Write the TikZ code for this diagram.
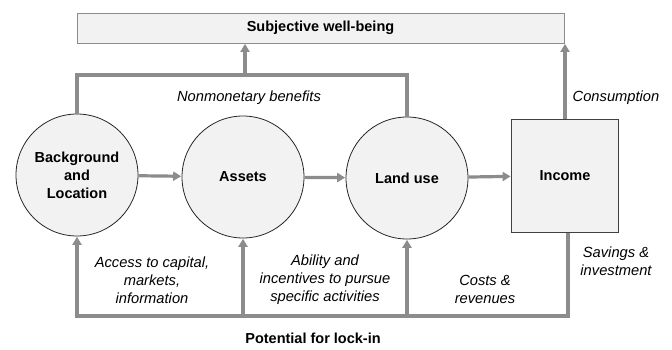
\documentclass[tikz,border=0pt]{standalone}
\usepackage{fontspec}
\setmainfont{Liberation Sans}
\usetikzlibrary{arrows.meta}

\definecolor{lineGray}{RGB}{140,140,140}
\definecolor{boxFill}{RGB}{242,242,242}

\tikzset{
	bold/.style={font=\fontsize{14.5}{18}\selectfont\bfseries, align=center},
	note/.style={font=\fontsize{14.7}{18}\selectfont\itshape, align=center},
	stage/.style={circle, draw=black!85, line width=0.8pt, fill=boxFill, minimum size=122pt, inner sep=0pt, bold},
	flowline/.style={draw=lineGray, line width=3.2pt},
	flow/.style={flowline, -{Triangle[length=8pt,width=9pt]}, shorten >=0.4pt}
}

\begin{document}
\begin{tikzpicture}[x=1pt,y=-1pt]

\useasboundingbox (0,0) rectangle (672,349);

%boxes and circles
\node[draw=lineGray, line width=1pt, fill=boxFill, minimum width=487pt, minimum height=30pt, bold](wellbeing) at (320.5,28){Subjective well-being};
\node[stage](background) at (77,175){Background\\and\\Location};
\node[stage](assets) at (243,177){Assets};
\node[stage](landuse) at (407,178){Land use};
\node[draw=black!75, line width=1pt, fill=boxFill, minimum width=107pt, minimum height=113pt, bold](income) at (565,175.5){Income};

%main chain
\draw[flow](background)--(assets);
\draw[flow](assets)--(landuse);
\draw[flow](landuse)--(income);

%nonmonetary benefits and consumption
\coordinate (nmbar) at (245,75);
\draw[flowline](background.north)|-(nmbar)-|(landuse.north);
\draw[flow](nmbar)--(wellbeing.south -| nmbar);
\draw[flow](income.north)--(income.north |- wellbeing.south);

%lock-in feedback
\coordinate (lockbase) at (0,316);
\coordinate (savings) at (568,0);
\draw[flow](income.south -| savings)|-(background.south |- lockbase)--(background.south);
\draw[flow](assets.south |- lockbase)--(assets.south);
\draw[flow](landuse.south |- lockbase)--(landuse.south);

%add annotations
\node[note](nonmonetary) at (249,98){Nonmonetary benefits};
\node[note](consumption) at (616,98){Consumption};
\node[note](access) at (152,280){Access to capital,\\markets,\\information};
\node[note](ability) at (325,280){Ability and\\incentives to pursue\\specific activities};
\node[note](costs) at (485,289){Costs \&\\revenues};
\node[note](savingsnote) at (616,261){Savings \&\\investment};
\node[bold](lockin) at (313,338){Potential for lock-in};
\end{tikzpicture}
\end{document}
